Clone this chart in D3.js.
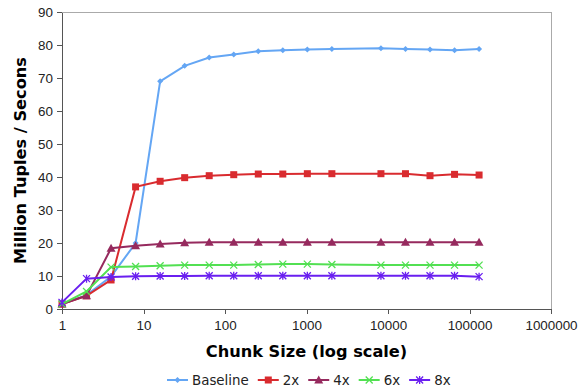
<!DOCTYPE html>
<meta charset="utf-8">
<style>
body { margin: 0; background: #fff; }
svg { font-family: "DejaVu Sans", Verdana, sans-serif; }
.axis text { font-size: 13.4px; fill: #222; }
.axis path, .axis line { stroke: #555; shape-rendering: crispEdges; }
.title { font-weight: bold; font-size: 16.2px; fill: #000; }
.legend text { font-size: 13.4px; fill: #222; }
</style>
<body>
<div id="chart"></div>
<script src="https://d3js.org/d3.v7.min.js"></script>
<script>
var chunks = [1, 2, 4, 8, 16, 32, 64, 128, 256, 512, 1024, 2048, 8192, 16384, 32768, 65536, 131072];
var seriesNames = ["Baseline", "2x", "4x", "6x", "8x"];
var baseline = [1.5, 4.2, 9.8, 20, 69, 73.7, 76.2, 77.1, 78.1, 78.4, 78.6, 78.8, 79.0, 78.8, 78.6, 78.4, 78.8];
var twoX =     [1.5, 4, 8.8, 37, 38.7, 39.8, 40.4, 40.7, 40.9, 40.9, 41, 41, 41, 41, 40.4, 40.8, 40.6];
var fourX =    [1.5, 4, 18.4, 19.2, 19.7, 20.1, 20.2, 20.2, 20.2, 20.2, 20.2, 20.2, 20.2, 20.2, 20.2, 20.2, 20.2];
var sixX =     [1.5, 5.3, 12.7, 12.9, 13.1, 13.3, 13.3, 13.3, 13.5, 13.6, 13.6, 13.5, 13.3, 13.3, 13.3, 13.3, 13.3];
var eightX =   [2, 9.2, 9.7, 9.9, 10, 10, 10.1, 10.1, 10.1, 10.1, 10.1, 10.1, 10.1, 10.1, 10.1, 10.1, 9.8];
var xTicks = [1, 10, 100, 1000, 10000, 100000, 1000000];
var yTicks = [0, 10, 20, 30, 40, 50, 60, 70, 80, 90];

var allValues = [baseline, twoX, fourX, sixX, eightX];
var colors = ["#64a6f4", "#d92b2f", "#962a5e", "#52e052", "#6a1ff0"];
var shapes = ["diamond", "square", "triangle", "x", "star"];

var W = 587, H = 386;
var margin = {top: 12, right: 36, bottom: 77, left: 62};
var width = W - margin.left - margin.right,
    height = H - margin.top - margin.bottom;

var svg = d3.select("#chart").append("svg")
    .attr("width", W).attr("height", H);
var g = svg.append("g")
    .attr("transform", "translate(" + margin.left + "," + margin.top + ")");

var x = d3.scaleLog().domain([1, 1000000]).range([0, width]);
var y = d3.scaleLinear().domain([0, 90]).range([height, 0]);

// plot border (top/right)
g.append("path")
  .attr("d", "M0,0.5H" + (width + 0.5) + "V" + height)
  .attr("fill", "none").attr("stroke", "#aaa").attr("shape-rendering", "crispEdges");

g.append("g").attr("class", "axis")
  .attr("transform", "translate(0," + height + ")")
  .call(d3.axisBottom(x).tickValues(xTicks).tickFormat(d3.format("d")).tickSize(5).tickSizeOuter(0).tickPadding(6));

g.append("g").attr("class", "axis")
  .call(d3.axisLeft(y).tickValues(yTicks).tickSize(5).tickSizeOuter(0).tickPadding(4));

function marker(sel, shape, color) {
  if (shape === "diamond") {
    sel.append("path").attr("d", "M0,-3L3,0L0,3L-3,0Z").attr("fill", color);
  } else if (shape === "square") {
    sel.append("rect").attr("x", -3.5).attr("y", -3.5).attr("width", 7).attr("height", 7).attr("fill", color);
  } else if (shape === "triangle") {
    sel.append("path").attr("d", "M0,-4.5L4.5,3.5L-4.5,3.5Z").attr("fill", color);
  } else if (shape === "x") {
    sel.append("path").attr("d", "M-3.5,-3.5L3.5,3.5M3.5,-3.5L-3.5,3.5").attr("stroke", color).attr("stroke-width", 1.3);
  } else {
    sel.append("path").attr("d", "M-3.5,-3.5L3.5,3.5M3.5,-3.5L-3.5,3.5M0,-4L0,4").attr("stroke", color).attr("stroke-width", 1.3);
  }
}

var line = d3.line()
  .x(function(d) { return x(d[0]); })
  .y(function(d) { return y(d[1]); });

allValues.forEach(function(vals, i) {
  var pts = chunks.map(function(c, j) { return [c, vals[j]]; });
  var s = g.append("g");
  s.append("path").datum(pts)
    .attr("d", line).attr("fill", "none")
    .attr("stroke", colors[i]).attr("stroke-width", 2);
  pts.forEach(function(p) {
    var m = s.append("g").attr("transform", "translate(" + x(p[0]) + "," + y(p[1]) + ")");
    marker(m, shapes[i], colors[i]);
  });
});

// axis titles
svg.append("text").attr("class", "title")
  .attr("x", margin.left + x(1000)).attr("y", 357)
  .attr("text-anchor", "middle").text("Chunk Size (log scale)");
svg.append("text").attr("class", "title")
  .attr("transform", "translate(26," + (margin.top + height / 2) + ") rotate(-90)")
  .attr("text-anchor", "middle").text("Million Tuples / Secons");

// legend
var legend = svg.append("g").attr("class", "legend");
var lx = 167;
seriesNames.forEach(function(name, i) {
  var item = legend.append("g").attr("transform", "translate(" + lx + ",380)");
  item.append("line").attr("x1", 0).attr("x2", 21).attr("y1", 0).attr("y2", 0)
    .attr("stroke", colors[i]).attr("stroke-width", 2);
  var m = item.append("g").attr("transform", "translate(10.5,0)");
  marker(m, shapes[i], colors[i]);
  var t = item.append("text").attr("x", 25).attr("y", 4.5).text(name);
  lx += 25 + t.node().getComputedTextLength() + 9;
});
</script>
</body>
